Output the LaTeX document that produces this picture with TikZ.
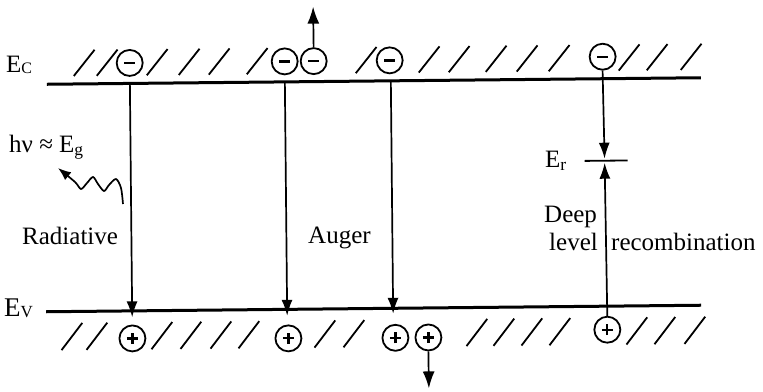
\documentclass[tikz,border=0pt]{standalone}
\usepackage{fontspec}
\setmainfont{Liberation Serif}
\usetikzlibrary{arrows.meta}
\newcommand\carMinus{\rule[-1.2pt]{11pt}{2.4pt}}
\newcommand\carPlus{\rule[-1.1pt]{11pt}{2.2pt}\llap{\rule[-5.5pt]{2.2pt}{11pt}\hspace{4.4pt}}}
\begin{document}
\begin{tikzpicture}[x=1pt,y=-1pt,
  band/.style={line width=3pt},
  hatch/.style={line width=1.8pt},
  carrier/.style={circle,draw,line width=1.8pt,minimum size=26pt,inner sep=0pt},
  trans/.style={line width=1.7pt,-{Latex[length=16pt,width=11pt]}},
  escape/.style={line width=1.7pt,-{Latex[length=17pt,width=12pt]}},
  lbl/.style={inner sep=0pt,font=\fontsize{25}{28}\selectfont},
  lev/.style={line width=1.8pt}
]
\useasboundingbox (0,0) rectangle (763,391);
\begin{scope}[rotate around={0.57:(375,195)}]
  % band edges
  \coordinate (ecL) at (48,81);
  \coordinate (ecR) at (702,81);
  \coordinate (evL) at (45,308.5);
  \coordinate (evR) at (700,308.5);
  \draw[band] (ecL) -- (ecR);
  \draw[band] (evL) -- (evR);
  % hatching
  \foreach \x in {75,98,148,180,210,248,357,420,450,487,518,550,620,648,682}
    \draw[hatch] (\x,73) -- ++(21,-26);
  \foreach \x in {60,85,150,179,209,237,313,342,465,492,520,548,625,653,683}
    \draw[hatch] (\x,347) -- ++(21,-27);
  % carriers
  \node[carrier] (e1) at (131,60.5) {\carMinus};
  \node[carrier] (e2) at (286,60.5) {\carMinus};
  \node[carrier] (e3) at (315,60.5) {\carMinus};
  \node[carrier] (e4) at (391,60.5) {\carMinus};
  \node[carrier] (e5) at (604,59) {\carMinus};
  \node[carrier] (h1) at (131,336) {\carPlus};
  \node[carrier] (h2) at (287,337.5) {\carPlus};
  \node[carrier] (h3) at (394,338) {\carPlus};
  \node[carrier] (h4) at (427,338) {\carPlus};
  \node[carrier] (h5) at (606,332) {\carPlus};
  % transitions
  \coordinate (r0) at (131,81);  \coordinate (r1) at (131,315);
  \coordinate (a0) at (286,81);  \coordinate (a1) at (286,315);
  \coordinate (t0) at (392,81);  \coordinate (t1) at (392,314);
  \draw[trans] (r0) -- (r1);
  \draw[trans] (a0) -- (a1);
  \draw[trans] (t0) -- (t1);
  % deep level
  \coordinate (erL) at (585,163);
  \coordinate (erR) at (628,163);
  \coordinate (er0) at (605,161);
  \coordinate (er1) at (605,165);
  \draw[lev] (erL) -- (erR);
  \draw[trans] (e5.south) -- (er0);
  \draw[trans] (h5.north) -- (er1);
  % escaping carriers
  \coordinate (up) at (315,6);
  \coordinate (dn) at (427,389);
  \draw[escape] (e3.north) -- (up);
  \draw[escape] (h4.south) -- (dn);
\end{scope}
% photon
\draw[line width=1.7pt,-{Latex[length=13pt,width=10pt]}] plot[smooth] coordinates
  {(123,204) (121,188) (116,179) (109,185) (104,191) (98,184) (93,177) (87,183) (81,189) (75,182) (58,168)};
% labels
\node[lbl,anchor=base west,font=\fontsize{25}{28}\selectfont] (ec) at (6,72) {E\raisebox{-1pt}{\fontsize{16}{16}\selectfont C}};
\node[lbl,anchor=base west,font=\fontsize{27}{28}\selectfont] (ev) at (4,316) {E\raisebox{-1pt}{\fontsize{17}{17}\selectfont V}};
\node[lbl,anchor=base west,font=\fontsize{25}{28}\selectfont] (hv) at (9,152) {hν ≈ E\textsubscript{g}};
\node[lbl,anchor=base west] (rad) at (22,244) {Radiative};
\node[lbl,anchor=base west] (aug) at (308,243) {Auger};
\node[lbl,anchor=base west] (deep) at (544,222) {Deep};
\node[lbl,anchor=base west] (lvl) at (549,250) {level};
\node[lbl,anchor=base west] (rec) at (611,250) {recombination};
\node[lbl,anchor=base west] (er) at (545,167) {E\textsubscript{r}};
\end{tikzpicture}
\end{document}
